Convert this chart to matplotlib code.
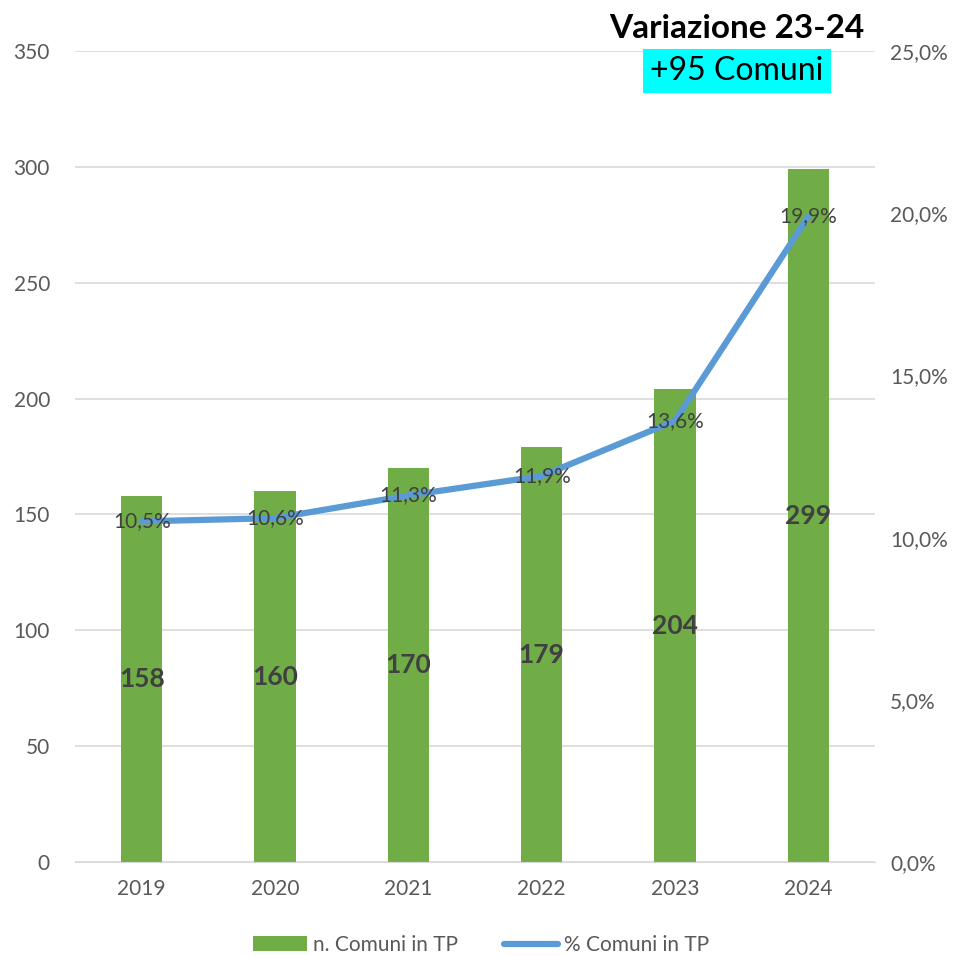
import numpy as np
import matplotlib.pyplot as plt

plt.rcParams['font.family'] = ['Lato', 'DejaVu Sans']

anni = ['2019', '2020', '2021', '2022', '2023', '2024']
n_comuni = [158, 160, 170, 179, 204, 299]
perc_comuni = [10.5, 10.6, 11.3, 11.9, 13.6, 19.9]

verde = '#70AD47'
blu = '#5B9BD5'
testo = '#404040'
tick_col = '#595959'

fig = plt.figure(figsize=(9.62, 9.56), dpi=100)
ax = fig.add_axes([75 / 962, 1 - 862 / 956, 800 / 962, 811 / 956])
ax2 = ax.twinx()

x = np.arange(len(anni))
ax.bar(x, n_comuni, width=0.31, color=verde, zorder=2, label='n. Comuni in TP')
for xi, v in zip(x, n_comuni):
    ax.text(xi, v / 2, str(v), ha='center', va='center', fontsize=19,
            fontweight='bold', color=testo, zorder=5)

ax.set_xlim(-0.5, len(anni) - 0.5)
ax.set_ylim(0, 350)
ax.set_yticks(range(0, 351, 50))
ax.grid(axis='y', color='#D9D9D9', linewidth=1.2, zorder=0)
ax.set_xticks(x)
ax.set_xticklabels(anni)

# linea percentuale sopra le barre, etichette sopra la linea
ax2.plot(x, perc_comuni, color=blu, linewidth=4.5, solid_capstyle='round',
         zorder=3, label='% Comuni in TP')
for xi, p in zip(x, perc_comuni):
    ax2.text(xi, p, f'{p:.1f}%'.replace('.', ','), ha='center', va='center',
             fontsize=15, color=testo, zorder=6)
ax2.set_ylim(0, 25)
ax2.set_yticks(np.arange(0, 25.1, 5))
ax2.set_yticklabels([f'{v:.1f}%'.replace('.', ',') for v in np.arange(0, 25.1, 5)])

for a in (ax, ax2):
    for s in a.spines.values():
        s.set_visible(False)
    a.tick_params(length=0, labelsize=15, labelcolor=tick_col)
ax.tick_params(axis='y', pad=18)
ax2.tick_params(axis='y', pad=11)
ax.tick_params(axis='x', pad=12)
ax.spines['bottom'].set_visible(True)
ax.spines['bottom'].set_color('#D9D9D9')

fig.text(737 / 962, 1 - 28 / 956, 'Variazione 23-24', ha='center', va='center',
         fontsize=24, fontweight='bold', color='black')
fig.text(737 / 962, 1 - 71 / 956, '+95 Comuni', ha='center', va='center',
         fontsize=23, color='black',
         bbox=dict(facecolor='#00FFFF', edgecolor='none', pad=5))

h1, l1 = ax.get_legend_handles_labels()
h2, l2 = ax2.get_legend_handles_labels()
fig.legend(h1 + h2, l1 + l2, loc='center', bbox_to_anchor=(0.5, 1 - 945 / 956),
           ncol=2, frameon=False, fontsize=15, labelcolor=tick_col,
           handlelength=2.6, handletextpad=0.3, columnspacing=2.2)

fig.savefig('out.png', dpi=100)
